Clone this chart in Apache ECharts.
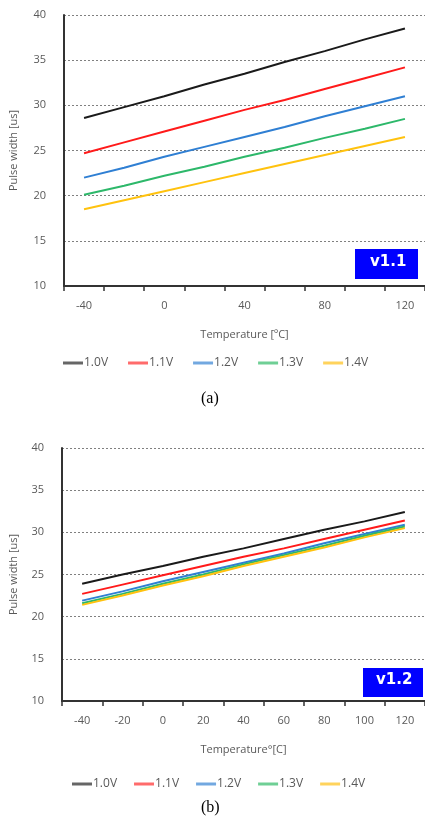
<!DOCTYPE html>
<html>
<head>
<meta charset="utf-8">
<script src="https://cdn.jsdelivr.net/npm/echarts@6/dist/echarts.min.js"></script>
<style>html,body{margin:0;padding:0;background:#fff;}#c{width:425px;height:821px;}</style>
</head>
<body>
<div id="c"></div>
<script>
var temps = ['-40','-20','0','20','40','60','80','100','120'];
var seriesNames = ['1.0V','1.1V','1.2V','1.3V','1.4V'];
var colors = ['#1a1a1a','#ff1a1a','#2f7fd3','#2db86a','#ffc20e'];
var legendColors = ['#666666','#ff6b6b','#72a8e0','#6fcf95','#ffd35c'];
var yTicks = {min: 10, max: 40, interval: 5};

// Chart (a) v1.1
var a_10V = [28.6, 29.8, 31.0, 32.3, 33.5, 34.8, 36.0, 37.3, 38.5];
var a_11V = [24.7, 25.9, 27.1, 28.3, 29.5, 30.6, 31.8, 33.0, 34.2];
var a_12V = [22.0, 23.1, 24.3, 25.4, 26.5, 27.6, 28.8, 29.9, 31.0];
var a_13V = [20.1, 21.1, 22.2, 23.2, 24.3, 25.3, 26.4, 27.4, 28.5];
var a_14V = [18.5, 19.5, 20.5, 21.5, 22.5, 23.5, 24.5, 25.5, 26.5];

// Chart (b) v1.2
var b_10V = [23.9, 25.0, 26.0, 27.1, 28.1, 29.2, 30.3, 31.3, 32.4];
var b_11V = [22.7, 23.8, 24.9, 26.0, 27.1, 28.1, 29.2, 30.3, 31.4];
var b_12V = [21.9, 23.0, 24.2, 25.3, 26.4, 27.5, 28.7, 29.8, 30.9];
var b_13V = [21.6, 22.7, 23.9, 25.0, 26.2, 27.3, 28.4, 29.6, 30.7];
var b_14V = [21.4, 22.5, 23.7, 24.8, 26.0, 27.1, 28.2, 29.4, 30.5];

var aData = [a_10V, a_11V, a_12V, a_13V, a_14V];
var bData = [b_10V, b_11V, b_12V, b_13V, b_14V];

var FONT = 'Open Sans';
var labelColor = '#595959';

function xAxis(gi, name, labelInterval) {
  return {
    type: 'category', gridIndex: gi, data: temps, boundaryGap: true,
    name: name, nameLocation: 'middle', nameGap: 43,
    nameTextStyle: {color: labelColor, fontSize: 11, fontFamily: FONT},
    axisLine: {lineStyle: {color: '#333', width: 2}},
    axisTick: {show: true, interval: 0, length: 5, inside: false, lineStyle: {color: '#333', width: 1.5}},
    axisLabel: {interval: labelInterval, color: labelColor, fontSize: 11, fontFamily: FONT, margin: 14},
    splitLine: {show: false}
  };
}
function yAxis(gi, gap) {
  return {
    type: 'value', gridIndex: gi, min: yTicks.min, max: yTicks.max, interval: yTicks.interval,
    name: 'Pulse width [us]', nameLocation: 'middle', nameRotate: 90, nameGap: gap,
    nameTextStyle: {color: labelColor, fontSize: 11, fontFamily: FONT},
    axisLine: {show: true, lineStyle: {color: '#333', width: 2}},
    axisTick: {show: false},
    axisLabel: {color: labelColor, fontSize: 11, fontFamily: FONT, margin: 18},
    splitLine: {show: true, lineStyle: {color: '#808080', type: [2, 2], width: 1}}
  };
}

var series = [];
seriesNames.forEach(function (n, i) {
  series.push({name: n, type: 'line', xAxisIndex: 0, yAxisIndex: 0, data: aData[i],
    symbol: 'none', lineStyle: {color: colors[i], width: 2}, itemStyle: {color: colors[i]}});
});
seriesNames.forEach(function (n, i) {
  series.push({name: n, type: 'line', xAxisIndex: 1, yAxisIndex: 1, data: bData[i],
    symbol: 'none', lineStyle: {color: colors[i], width: 2}, itemStyle: {color: colors[i]}});
});

function legend(left, top, gap) {
  return {
    data: seriesNames.map(function (n, i) { return {name: n, itemStyle: {color: legendColors[i]}}; }),
    left: left, top: top, padding: 0, icon: 'rect', itemWidth: 20, itemHeight: 3,
    itemGap: gap, textStyle: {color: labelColor, fontSize: 12, fontFamily: FONT, padding: [0, 0, 0, -4]},
    selectedMode: false
  };
}

var chart = echarts.init(document.getElementById('c'), null, {renderer: 'canvas'});
chart.setOption({
  animation: false,
  backgroundColor: '#ffffff',
  grid: [
    {left: 62, top: 15, width: 365, height: 271},
    {left: 61, top: 448, width: 366, height: 253}
  ],
  xAxis: [xAxis(0, 'Temperature [ºC]', 1), xAxis(1, 'Temperature°[C]', 0)],
  yAxis: [yAxis(0, 45), yAxis(1, 43)],
  legend: [legend(63, 357, 20), legend(72, 778, 17)],
  series: series,
  graphic: [
    {type: 'rect', left: 355, top: 249, shape: {width: 63, height: 30}, style: {fill: '#0000ff'}, z: 100},
    {type: 'text', left: 370, top: 255, style: {text: 'v1.1', fill: '#fff', font: 'bold 15px "DejaVu Sans"'}, z: 101},
    {type: 'rect', left: 363, top: 668, shape: {width: 60, height: 29}, style: {fill: '#0000ff'}, z: 100},
    {type: 'text', left: 376, top: 673, style: {text: 'v1.2', fill: '#fff', font: 'bold 15px "DejaVu Sans"'}, z: 101},
    {type: 'text', left: 201, top: 391, style: {text: '(a)', fill: '#000', font: '16px "Liberation Serif"'}},
    {type: 'text', left: 201, top: 800, style: {text: '(b)', fill: '#000', font: '16px "Liberation Serif"'}}
  ]
});
</script>
</body>
</html>
